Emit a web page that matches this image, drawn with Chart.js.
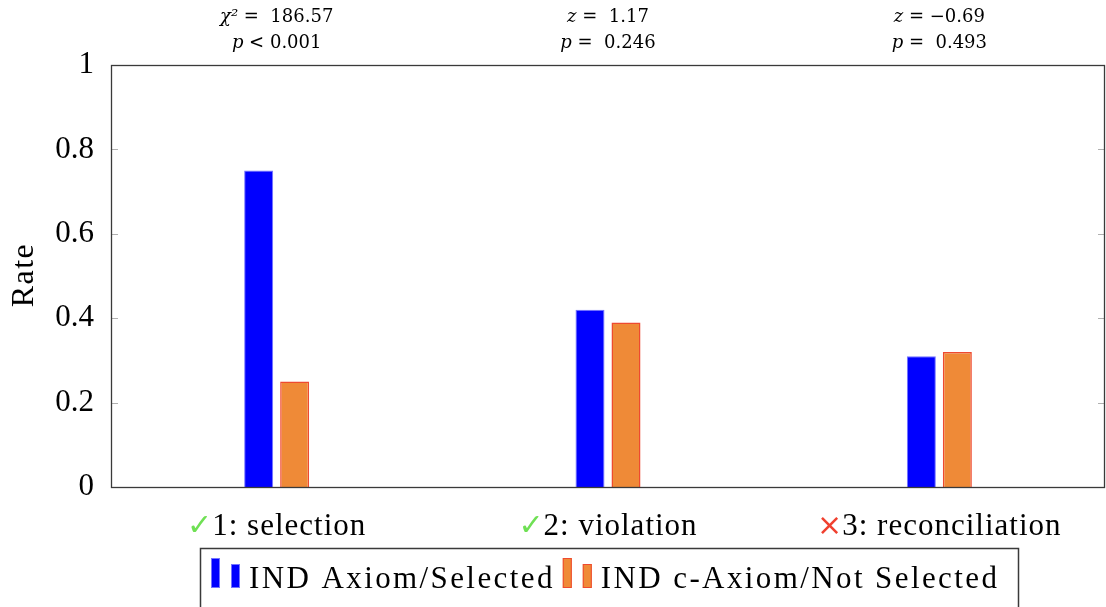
<!DOCTYPE html>
<html>
<head>
<meta charset="utf-8">
<script src="https://cdn.jsdelivr.net/npm/chart.js"></script>
<style>
html,body{margin:0;padding:0;background:#fff}
#wrap{width:1106px;height:607px}
</style>
</head>
<body>
<div id="wrap"><canvas id="rateChart"></canvas></div>
<script>
const categories = ['1: selection', '2: violation', '3: reconciliation'];
const categoryMarks = ['✓', '✓', '×'];
const markColors = ['#6fe054', '#6fe054', '#f0402f'];
const seriesNames = ['IND Axiom/Selected', 'IND c-Axiom/Not Selected'];
const axiomSelected = [0.75, 0.42, 0.31];
const cAxiomNotSelected = [0.25, 0.39, 0.32];
const yTicks = [0, 0.2, 0.4, 0.6, 0.8, 1];
const statSym1 = ['χ²', 'z', 'z'];
const statVal1 = [' =  186.57', ' =  1.17', ' = −0.69'];
const statSym2 = ['p', 'p', 'p'];
const statVal2 = [' < 0.001', ' =  0.246', ' =  0.493'];

const SERIF = '"Liberation Serif", "Times New Roman", serif';
const ANNOT = '"DejaVu Serif", serif';

// draws frame, inner ticks, labels, stats and the legend
const decor = {
	id: 'decor',
	afterDraw(chart){
		const ctx = chart.ctx;
		const a = chart.chartArea;
		const xs = chart.scales.x, ys = chart.scales.y;
		ctx.save();

		// inner tick marks on both sides
		ctx.strokeStyle = '#b0b0b0';
		ctx.lineWidth = 1;
		yTicks.forEach(v => {
			const y = Math.round(ys.getPixelForValue(v)) + 0.5;
			ctx.beginPath();
			ctx.moveTo(a.left, y); ctx.lineTo(a.left + 7, y);
			ctx.moveTo(a.right - 7, y); ctx.lineTo(a.right, y);
			ctx.stroke();
		});

		// frame
		ctx.strokeStyle = '#3a3a3a';
		ctx.lineWidth = 1.3;
		ctx.strokeRect(a.left + 0.5, a.top + 0.5, a.right - a.left - 1, a.bottom - a.top);

		// category labels with marks
		ctx.textBaseline = 'alphabetic';
		ctx.textAlign = 'left';
		categories.forEach((lab, i) => {
			const cx = xs.getPixelForValue(i);
			ctx.font = '31px ' + SERIF;
			ctx.letterSpacing = '1px';
			const wl = ctx.measureText(lab).width;
			ctx.letterSpacing = '0px';
			ctx.font = '30px "DejaVu Sans", sans-serif';
			const wm = ctx.measureText(categoryMarks[i]).width;
			const x0 = cx - (wl + wm) / 2;
			ctx.fillStyle = markColors[i];
			ctx.fillText(categoryMarks[i], x0, 535);
			ctx.fillStyle = '#000';
			ctx.font = '31px ' + SERIF;
			ctx.letterSpacing = '1px';
			ctx.fillText(lab, x0 + wm, 535);
			ctx.letterSpacing = '0px';
		});

		// stats above the plot
		const statLine = (sym, val, cx, y) => {
			ctx.font = 'italic 18px ' + ANNOT;
			const ws = ctx.measureText(sym).width;
			ctx.font = '18px ' + ANNOT;
			const wv = ctx.measureText(val).width;
			const x0 = cx - (ws + wv) / 2;
			ctx.font = 'italic 18px ' + ANNOT;
			ctx.fillText(sym, x0, y);
			ctx.font = '18px ' + ANNOT;
			ctx.fillText(val, x0 + ws, y);
		};
		ctx.fillStyle = '#000';
		categories.forEach((lab, i) => {
			const cx = xs.getPixelForValue(i);
			statLine(statSym1[i], statVal1[i], cx, 22);
			statLine(statSym2[i], statVal2[i], cx, 48);
		});

		// axis title
		ctx.save();
		ctx.translate(33, 275);
		ctx.rotate(-Math.PI / 2);
		ctx.textAlign = 'center';
		ctx.font = '32px ' + SERIF;
		ctx.letterSpacing = '1.5px';
		ctx.fillStyle = '#000';
		ctx.fillText('Rate', 0, 0);
		ctx.restore();

		// legend
		ctx.strokeStyle = '#3a3a3a';
		ctx.lineWidth = 1.5;
		ctx.strokeRect(200.5, 548.5, 818, 70);
		const ds = chart.data.datasets;
		let x = 211;
		ds.forEach((d, k) => {
			ctx.fillStyle = d.backgroundColor;
			ctx.strokeStyle = d.borderColor;
			ctx.lineWidth = 1;
			ctx.fillRect(x, 558, 9, 30);
			ctx.strokeRect(x + 0.5, 558.5, 8, 29);
			ctx.fillRect(x + 20, 564, 9, 24);
			ctx.strokeRect(x + 20.5, 564.5, 8, 23);
			ctx.fillStyle = '#000';
			ctx.font = '31px ' + SERIF;
			ctx.letterSpacing = '2.4px';
			ctx.fillText(d.label, x + 38, 588);
			const w = ctx.measureText(d.label).width;
			ctx.letterSpacing = '0px';
			x = x + 38 + w + 8;
		});

		ctx.restore();
	}
};

const ctx = document.getElementById('rateChart').getContext('2d');
new Chart(ctx, {
	type: 'bar',
	data: {
		labels: categories,
		datasets: [
			{ label: seriesNames[0], data: axiomSelected, backgroundColor: '#0000ff', borderColor: '#7474ff', borderWidth: 1 },
			{ label: seriesNames[1], data: cAxiomNotSelected, backgroundColor: '#ef8a37', borderColor: '#ee4a30', borderWidth: 1.5 }
		]
	},
	options: {
		responsive: true,
		maintainAspectRatio: false,
		animation: false,
		datasets: { bar: { categoryPercentage: 0.2173, barPercentage: 0.806 } },
		layout: { padding: { top: 65, right: 1, left: 0, bottom: 0 } },
		plugins: { legend: { display: false }, tooltip: { enabled: false } },
		scales: {
			x: {
				grid: { display: false },
				border: { display: false },
				ticks: { display: false },
				afterFit(s){ s.height = 120; }
			},
			y: {
				min: 0, max: 1,
				ticks: {
					stepSize: 0.2,
					padding: 9,
					color: '#000',
					font: { family: SERIF, size: 31 },
					callback: v => String(Number(v.toFixed(1)))
				},
				grid: { display: false },
				border: { display: false },
				afterFit(s){ s.width = 111; }
			}
		}
	},
	plugins: [decor]
});
</script>
</body>
</html>
